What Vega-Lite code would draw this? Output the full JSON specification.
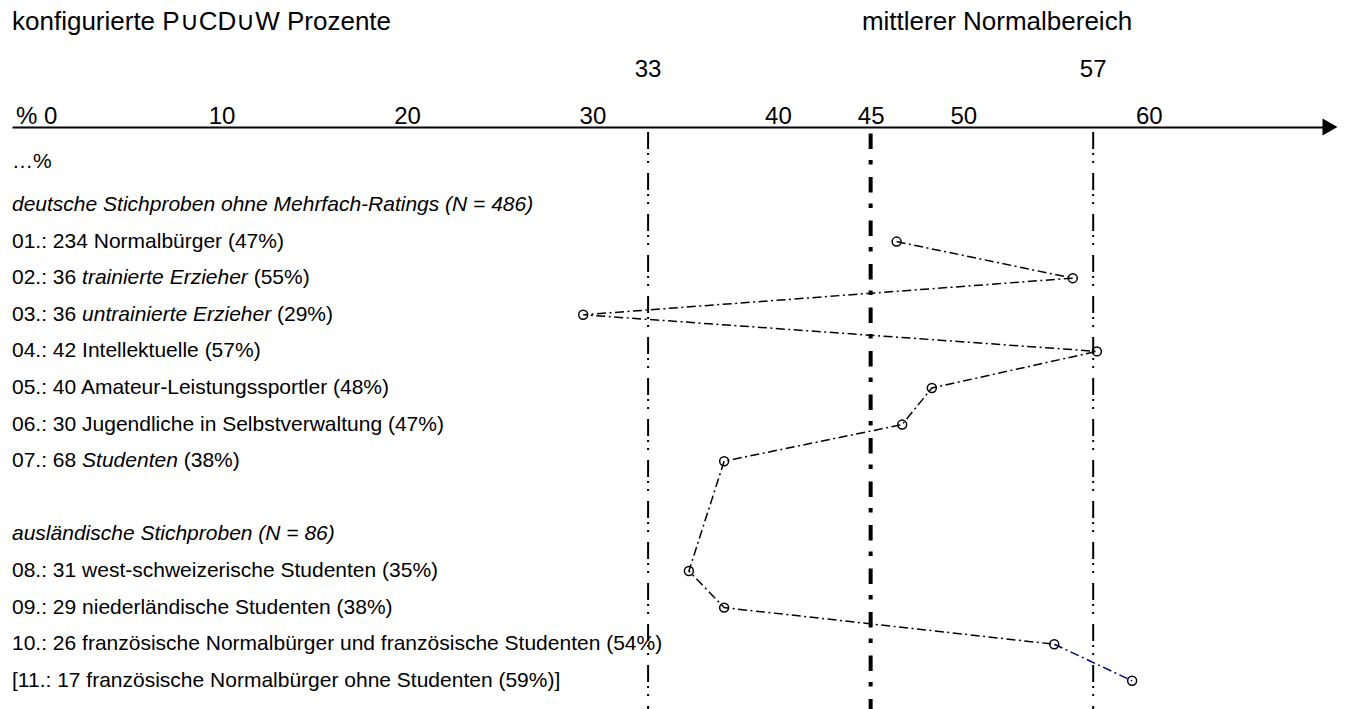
{
  "$schema": "https://vega.github.io/schema/vega-lite/v6.json",
  "autosize": "none",
  "padding": {"left": 12, "top": 127, "right": 24, "bottom": 0},
  "width": 1313,
  "height": 582,
  "background": "white",
  "config": {"view": {"stroke": null}},
  "datasets": {
    "zeilen": [
      {"zeile": -1.18, "wert": -1.3, "t": "…%"},
      {"zeile": 1, "wert": -1.3, "t": "01.: 234 Normalbürger (47%)"},
      {"zeile": 2, "wert": -1.3, "t": "02.: 36"},
      {"zeile": 2, "wert": 11.73, "t": "(55%)"},
      {"zeile": 3, "wert": -1.3, "t": "03.: 36"},
      {"zeile": 3, "wert": 12.99, "t": "(29%)"},
      {"zeile": 4, "wert": -1.3, "t": "04.: 42 Intellektuelle (57%)"},
      {"zeile": 5, "wert": -1.3, "t": "05.: 40 Amateur-Leistungssportler (48%)"},
      {"zeile": 6, "wert": -1.3, "t": "06.: 30 Jugendliche in Selbstverwaltung (47%)"},
      {"zeile": 7, "wert": -1.3, "t": "07.: 68"},
      {"zeile": 7, "wert": 7.96, "t": "(38%)"},
      {"zeile": 10, "wert": -1.3, "t": "08.: 31 west-schweizerische Studenten (35%)"},
      {"zeile": 11, "wert": -1.3, "t": "09.: 29 niederländische Studenten (38%)"},
      {"zeile": 12, "wert": -1.3, "t": "10.: 26 französische Normalbürger und französische Studenten (54%)"},
      {"zeile": 13, "wert": -1.3, "t": "[11.: 17 französische Normalbürger ohne Studenten (59%)]"}
    ],
    "hervorhebungen": [
      {"zeile": 0, "wert": -1.3, "t": "deutsche Stichproben ohne Mehrfach-Ratings (N = 486)"},
      {"zeile": 2, "wert": 2.48, "t": "trainierte Erzieher"},
      {"zeile": 3, "wert": 2.48, "t": "untrainierte Erzieher"},
      {"zeile": 7, "wert": 2.48, "t": "Studenten"},
      {"zeile": 9, "wert": -1.3, "t": "ausländische Stichproben (N = 86)"}
    ],
    "stichproben": [
      {"nr": "01", "zeile": 1, "wert": 46.4},
      {"nr": "02", "zeile": 2, "wert": 55.9},
      {"nr": "03", "zeile": 3, "wert": 29.5},
      {"nr": "04", "zeile": 4, "wert": 57.2},
      {"nr": "05", "zeile": 5, "wert": 48.3},
      {"nr": "06", "zeile": 6, "wert": 46.7},
      {"nr": "07", "zeile": 7, "wert": 37.1},
      {"nr": "08", "zeile": 10, "wert": 35.2},
      {"nr": "09", "zeile": 11, "wert": 37.1},
      {"nr": "10", "zeile": 12, "wert": 54.9},
      {"nr": "11", "zeile": 13, "wert": 59.1}
    ],
    "grenzen": [
      {"wert": 33, "art": "Grenze"},
      {"wert": 45, "art": "Mitte"},
      {"wert": 57, "art": "Grenze"}
    ],
    "titel": [
      {"zeile": -5.0, "wert": -1.3, "t": "konfigurierte P∪CD∪W Prozente"},
      {"zeile": -5.0, "wert": 44.53, "t": "mittlerer Normalbereich"}
    ]
  },
  "layer": [
    {
      "data": {"name": "grenzen"},
      "transform": [{"filter": "datum.art == 'Grenze'"}],
      "mark": {"type": "rule", "color": "black", "strokeWidth": 2, "strokeDash": [17, 4, 2, 6, 2, 10], "strokeDashOffset": 36},
      "encoding": {
        "x": {
          "field": "wert",
          "type": "quantitative",
          "scale": {"domain": [-1.3, 69.5], "nice": false, "zero": false},
          "axis": {
            "orient": "top",
            "title": null,
            "values": [0, 10, 20, 30, 40, 45, 50, 60],
            "labelExpr": "datum.value == 0 ? '% 0' : datum.label",
            "grid": false,
            "ticks": false,
            "tickSize": 0,
            "labelPadding": 4,
            "labelBaseline": "alphabetic",
            "labelFont": "Liberation Sans",
            "labelFontSize": 24,
            "labelColor": "black",
            "labelOverlap": false,
            "labelFlush": false,
            "labelBound": false,
            "domainColor": "black",
            "domainWidth": 2
          }
        },
        "y": {
          "datum": -2.13,
          "type": "quantitative",
          "scale": {"domain": [-2.13, 13.77], "nice": false, "zero": false, "reverse": true},
          "axis": null
        },
        "y2": {"datum": 13.77}
      }
    },
    {
      "data": {"name": "grenzen"},
      "transform": [{"filter": "datum.art == 'Mitte'"}],
      "mark": {"type": "rule", "color": "black", "strokeWidth": 4, "strokeDash": [15.5, 11, 4.5, 12.5], "strokeDashOffset": 37},
      "encoding": {
        "x": {"field": "wert", "type": "quantitative"},
        "y": {"datum": -2.13, "type": "quantitative", "axis": null},
        "y2": {"datum": 13.77}
      }
    },
    {
      "data": {"name": "stichproben"},
      "transform": [{"filter": "datum.zeile <= 12"}],
      "mark": {"type": "line", "color": "black", "strokeWidth": 1.5, "strokeDash": [9, 3.5, 2, 3.5]},
      "encoding": {
        "x": {"field": "wert", "type": "quantitative"},
        "y": {"field": "zeile", "type": "quantitative", "axis": null},
        "order": {"field": "zeile", "type": "quantitative"}
      }
    },
    {
      "data": {"name": "stichproben"},
      "transform": [{"filter": "datum.zeile >= 12"}],
      "mark": {"type": "line", "color": "#000080", "strokeWidth": 1.5, "strokeDash": [9, 3.5, 2, 3.5]},
      "encoding": {
        "x": {"field": "wert", "type": "quantitative"},
        "y": {"field": "zeile", "type": "quantitative", "axis": null},
        "order": {"field": "zeile", "type": "quantitative"}
      }
    },
    {
      "data": {"name": "stichproben"},
      "mark": {"type": "point", "shape": "circle", "filled": false, "color": "black", "size": 80, "strokeWidth": 1.5, "opacity": 1},
      "encoding": {
        "x": {"field": "wert", "type": "quantitative"},
        "y": {"field": "zeile", "type": "quantitative", "axis": null}
      }
    },
    {
      "data": {"name": "zeilen"},
      "mark": {"type": "text", "align": "left", "baseline": "middle", "font": "Liberation Sans", "fontSize": 21, "color": "black"},
      "encoding": {
        "x": {"field": "wert", "type": "quantitative"},
        "y": {"field": "zeile", "type": "quantitative", "axis": null},
        "text": {"field": "t", "type": "nominal"}
      }
    },
    {
      "data": {"name": "hervorhebungen"},
      "mark": {"type": "text", "align": "left", "baseline": "middle", "font": "Liberation Sans", "fontSize": 21, "fontStyle": "italic", "color": "black"},
      "encoding": {
        "x": {"field": "wert", "type": "quantitative"},
        "y": {"field": "zeile", "type": "quantitative", "axis": null},
        "text": {"field": "t", "type": "nominal"}
      }
    },
    {
      "data": {"name": "titel"},
      "mark": {"type": "text", "align": "left", "baseline": "middle", "font": "Liberation Sans", "fontSize": 26, "color": "black"},
      "encoding": {
        "x": {"field": "wert", "type": "quantitative"},
        "y": {"field": "zeile", "type": "quantitative", "axis": null},
        "text": {"field": "t", "type": "nominal"}
      }
    },
    {
      "data": {"name": "grenzen"},
      "transform": [{"filter": "datum.art == 'Grenze'"}],
      "mark": {"type": "text", "align": "center", "baseline": "middle", "font": "Liberation Sans", "fontSize": 24, "color": "black"},
      "encoding": {
        "x": {"field": "wert", "type": "quantitative"},
        "y": {"datum": -3.69, "type": "quantitative", "axis": null},
        "text": {"field": "wert", "type": "quantitative"}
      }
    },
    {
      "data": {"values": [{}]},
      "mark": {"type": "point", "shape": "M-0.88,-1L0.88,0L-0.88,1Z", "filled": true, "color": "black", "size": 289, "opacity": 1},
      "encoding": {
        "x": {"datum": 69.77, "type": "quantitative"},
        "y": {"datum": -2.13, "type": "quantitative", "axis": null}
      }
    }
  ]
}
